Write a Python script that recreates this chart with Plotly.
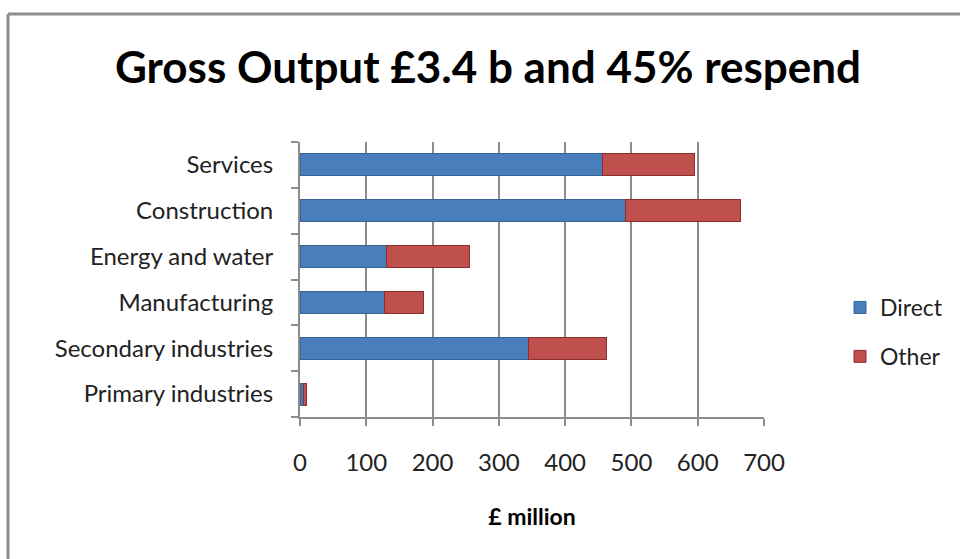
import plotly.graph_objects as go

categories = ["Primary industries", "Secondary industries", "Manufacturing",
              "Energy and water", "Construction", "Services"]
direct = [5, 344, 128, 131, 491, 456]
other = [5, 118, 58, 125, 173, 139]
x_ticks = [0, 100, 200, 300, 400, 500, 600, 700]

FONT = "Lato"
GRID = "#8c8c8c"

fig = go.Figure()
fig.add_trace(go.Bar(y=categories, x=direct, name="Direct", orientation="h",
                     marker=dict(color="#4a7ebb", line=dict(color="#3a6496", width=1)),
                     legendgroup="a"))
fig.add_trace(go.Bar(y=categories, x=other, name="Other", orientation="h",
                     marker=dict(color="#c0504d", line=dict(color="#8c2f2d", width=1)),
                     legendgroup="b"))

fig.update_layout(
    width=960, height=559, autosize=False,
    barmode="stack", bargap=0.52,
    plot_bgcolor="white", paper_bgcolor="white",
    margin=dict(l=300, r=196, t=142, b=142),
    title=dict(text="<b>Gross Output £3.4 b and 45% respend</b>",
               font=dict(family=FONT, size=44, color="black"),
               x=488 / 960, xanchor="center", y=1 - 68 / 559, yanchor="middle",
               xref="container", yref="container"),
    font=dict(family=FONT, size=24, color="#222222"),
    legend=dict(x=840 / 960, xref="container", y=1 - 332 / 559, yref="container",
                xanchor="left", yanchor="middle", font=dict(size=23),
                tracegroupgap=16, itemwidth=30),
    showlegend=True,
)
fig.update_xaxes(range=[0, 700], tickvals=x_ticks, showgrid=True, gridcolor=GRID,
                 gridwidth=2, showline=True, linecolor=GRID, linewidth=2,
                 ticks="outside", ticklen=7, tickcolor=GRID, tickwidth=2,
                 zeroline=False, ticklabelstandoff=16,
                 title=dict(text="<b>£ million</b>", font=dict(size=23, color="black"),
                            standoff=34))
fig.update_yaxes(categoryorder="array", categoryarray=categories,
                 showline=True, linecolor=GRID, linewidth=2,
                 ticks="outside", ticklen=7, tickcolor=GRID, tickwidth=2,
                 tickson="boundaries", ticklabelstandoff=20)

# chart frame
fig.add_shape(type="line", xref="paper", yref="paper",
              x0=-292 / 464, x1=660 / 464, y0=1 + 128 / 275, y1=1 + 128 / 275,
              line=dict(color="#8c8c8c", width=3))
fig.add_shape(type="line", xref="paper", yref="paper",
              x0=-292 / 464, x1=-292 / 464, y0=1 + 128 / 275, y1=-142 / 275,
              line=dict(color="#8c8c8c", width=3))

fig.write_html("out.html")
